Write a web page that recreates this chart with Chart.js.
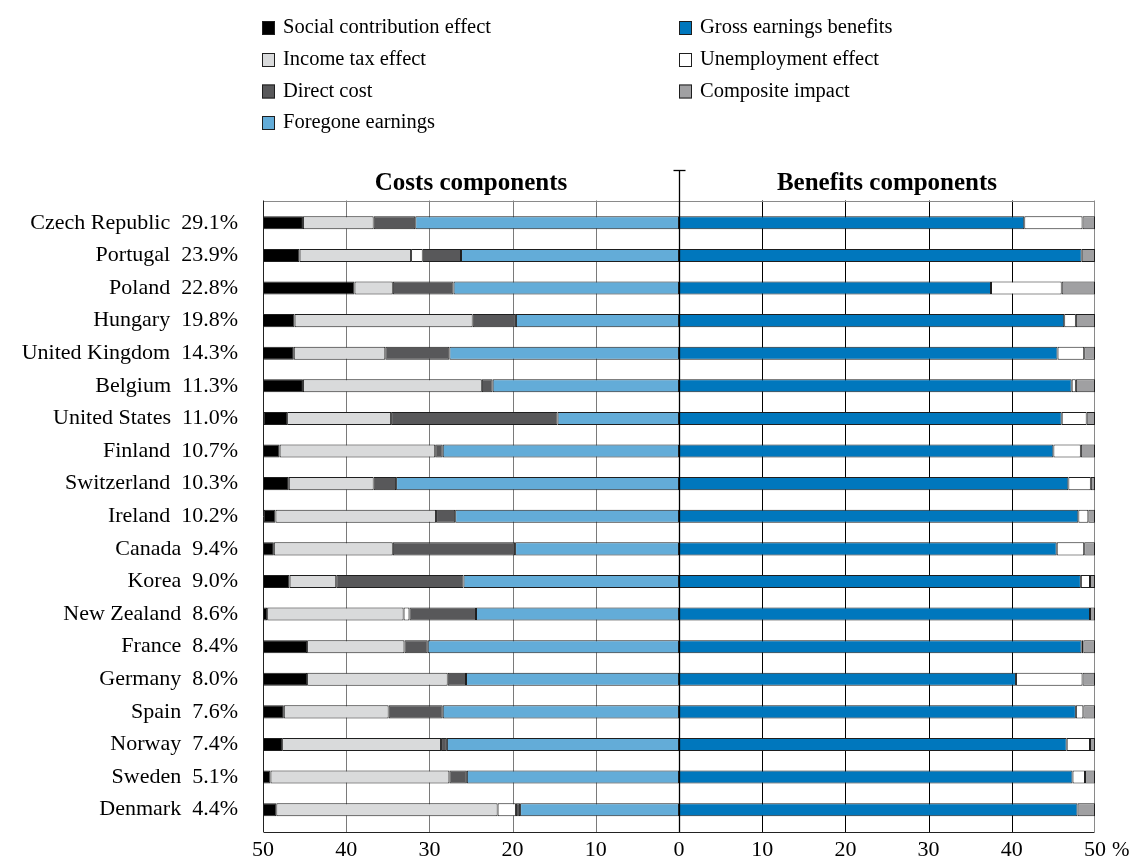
<!DOCTYPE html>
<html>
<head>
<meta charset="utf-8">
<script src="https://cdn.jsdelivr.net/npm/chart.js@4.4.1/dist/chart.umd.min.js"></script>
<style>
html,body{margin:0;padding:0;background:#fff;}
#wrap{width:1133px;height:865px;position:relative;}
</style>
</head>
<body>
<div id="wrap"><canvas id="c" width="1133" height="865"></canvas></div>
<script>
const countries = ["Czech Republic","Portugal","Poland","Hungary","United Kingdom","Belgium","United States","Finland","Switzerland","Ireland","Canada","Korea","New Zealand","France","Germany","Spain","Norway","Sweden","Denmark"];
const rates = ["29.1%","23.9%","22.8%","19.8%","14.3%","11.3%","11.0%","10.7%","10.3%","10.2%","9.4%","9.0%","8.6%","8.4%","8.0%","7.6%","7.4%","5.1%","4.4%"];

// Cost components (share of total, drawn to the left)
const socialContribution = [4.8,4.4,11.0,3.9,3.8,4.8,2.8,2.0,3.1,1.4,1.3,3.2,0.5,5.3,5.3,2.5,2.3,1.0,1.6];
const incomeTax = [8.5,13.4,4.6,21.4,11.0,21.5,12.5,18.7,10.2,19.3,14.3,5.6,16.4,11.7,16.9,12.6,19.1,21.5,26.6];
const unemploymentCost = [0,1.4,0,0,0,0,0,0,0,0,0,0,0.7,0,0,0,0,0,2.2];
const directCost = [5.0,4.6,7.3,5.2,7.7,1.3,20.0,0.9,2.7,2.3,14.7,15.3,8.0,2.8,2.2,6.5,0.7,2.1,0.5];
const foregoneEarnings = [31.7,26.2,27.1,19.6,27.6,22.4,14.6,28.4,34.0,26.9,19.7,25.9,24.4,30.2,25.6,28.4,27.9,25.5,19.1];

// Benefit components (drawn to the right)
const grossEarnings = [41.5,48.4,37.5,46.3,45.5,47.2,46.0,45.0,46.8,48.0,45.4,48.3,49.4,48.4,40.5,47.7,46.6,47.3,47.9];
const unemploymentBenefit = [7.0,0,8.5,1.4,3.2,0.5,3.0,3.3,2.7,1.2,3.3,1.1,0,0.2,8.0,0.9,2.8,1.5,0];
const compositeImpact = [1.5,1.6,4.0,2.3,1.3,2.3,1.0,1.7,0.5,0.8,1.3,0.6,0.6,1.4,1.5,1.4,0.6,1.2,2.1];

const xTicks = [-50,-40,-30,-20,-10,0,10,20,30,40,50];

const FONT = "'Liberation Serif', 'DejaVu Serif', serif";
const COL = {
  social:'#000000', tax:'#d9dadb', unemp:'#ffffff', direct:'#58585a',
  foregone:'#63acd8', gross:'#0077bd', composite:'#a0a0a2'
};

const labels = countries.map((c,i)=> c + '  ' + rates[i]);
const neg = a => a.map(v => v ? -v : null);
const pos = a => a.map(v => v ? v : null);

function ds(label, data, color){
  return {label, data, backgroundColor: color, borderColor:'#1e1e1e', borderWidth:1,
          borderSkipped:false, stack:'s', categoryPercentage:1, barPercentage:0.4};
}

const datasets = [
  ds('Foregone earnings', neg(foregoneEarnings), COL.foregone),
  ds('Direct cost', neg(directCost), COL.direct),
  ds('Unemployment effect (cost)', neg(unemploymentCost), COL.unemp),
  ds('Income tax effect', neg(incomeTax), COL.tax),
  ds('Social contribution effect', neg(socialContribution), COL.social),
  ds('Gross earnings benefits', pos(grossEarnings), COL.gross),
  ds('Unemployment effect', pos(unemploymentBenefit), COL.unemp),
  ds('Composite impact', pos(compositeImpact), COL.composite)
];

const legendLayout = [
  ['Social contribution effect', 0, 0], ['Income tax effect', 0, 1], ['Direct cost', 0, 2], ['Foregone earnings', 0, 3],
  ['Gross earnings benefits', 1, 0], ['Unemployment effect', 1, 1], ['Composite impact', 1, 2]
];

const PAD = 6;

const decor = {
  id:'decor',
  beforeDatasetsDraw(chart){
    const ctx = chart.ctx, a = chart.chartArea, xs = chart.scales.x;
    const top = a.top - PAD, bot = a.bottom + PAD;
    ctx.save();
    ctx.lineWidth = 1;
    xTicks.forEach(v=>{
      if (v === 0 || Math.abs(v) === 50) return;
      const x = Math.round(xs.getPixelForValue(v)) + 0.5;
      ctx.strokeStyle = v < 0 ? '#7a7a7a' : '#000000';
      ctx.beginPath(); ctx.moveTo(x, top); ctx.lineTo(x, bot); ctx.stroke();
    });
    const L = Math.round(xs.getPixelForValue(-50)) + 0.5;
    const R = Math.round(xs.getPixelForValue(50)) - 0.5;
    ctx.strokeStyle = '#8a8a8a';
    ctx.beginPath(); ctx.moveTo(L, Math.round(top)+0.5); ctx.lineTo(R, Math.round(top)+0.5); ctx.stroke();
    ctx.beginPath(); ctx.moveTo(R, top); ctx.lineTo(R, bot); ctx.stroke();
    ctx.strokeStyle = '#222222';
    ctx.beginPath(); ctx.moveTo(L, top); ctx.lineTo(L, bot); ctx.stroke();
    ctx.beginPath(); ctx.moveTo(L, Math.round(bot)+0.5); ctx.lineTo(R, Math.round(bot)+0.5); ctx.stroke();
    ctx.restore();
  },
  afterDatasetsDraw(chart){
    const ctx = chart.ctx, a = chart.chartArea, xs = chart.scales.x;
    const bot = a.bottom + PAD;
    ctx.save();
    // zero line with cap
    const x0 = Math.round(xs.getPixelForValue(0)) + 0.5;
    ctx.strokeStyle = '#000'; ctx.lineWidth = 1.3;
    ctx.beginPath(); ctx.moveTo(x0, 170.5); ctx.lineTo(x0, bot); ctx.stroke();
    ctx.beginPath(); ctx.moveTo(x0-6, 170.5); ctx.lineTo(x0+6, 170.5); ctx.stroke();
    // section titles
    ctx.fillStyle = '#000';
    ctx.font = "bold 25px " + FONT;
    ctx.textAlign = 'center'; ctx.textBaseline = 'middle';
    ctx.fillText('Costs components', (xs.getPixelForValue(-50)+xs.getPixelForValue(0))/2, 184);
    ctx.fillText('Benefits components', (xs.getPixelForValue(0)+xs.getPixelForValue(50))/2, 184);
    // percent sign
    ctx.font = "21px " + FONT;
    ctx.textAlign = 'left';
    ctx.fillText('%', xs.getPixelForValue(50) + 17, 850);
    // legend
    ctx.font = "20.5px " + FONT;
    const colX = [262, 679], rowY = [28, 60, 91.5, 123];
    legendLayout.forEach(([name, c, r])=>{
      const d = chart.data.datasets.find(s=>s.label===name);
      const bx = colX[c], by = rowY[r] - 7;
      ctx.fillStyle = d.backgroundColor;
      ctx.fillRect(bx, by, 13, 14);
      ctx.strokeStyle = '#1e1e1e'; ctx.lineWidth = 1;
      ctx.strokeRect(bx+0.5, by+0.5, 12, 13);
      ctx.fillStyle = '#000';
      ctx.textAlign = 'left'; ctx.textBaseline = 'middle';
      ctx.fillText(name, bx + 21, rowY[r]);
    });
    ctx.restore();
  }
};

new Chart(document.getElementById('c'), {
  type:'bar',
  data:{ labels, datasets },
  options:{
    indexAxis:'y',
    responsive:false,
    animation:false,
    events:[],
    layout:{ padding:{ left:0, right:38, top:206.5, bottom:0 } },
    plugins:{ legend:{display:false}, title:{display:false}, tooltip:{enabled:false} },
    scales:{
      x:{
        type:'linear', min:-50, max:50, stacked:true,
        afterBuildTicks(scale){ scale.ticks = xTicks.map(v=>({value:v})); },
        afterFit(scale){ scale.height = 39; },
        grid:{ display:false, drawTicks:false },
        border:{ display:false },
        ticks:{ color:'#000', padding:11, font:{ family:FONT, size:22 },
                callback:v=>String(Math.abs(v)), maxRotation:0, autoSkip:false }
      },
      y:{
        stacked:true,
        afterFit(scale){ scale.width = 263; },
        grid:{ display:false, drawTicks:false },
        border:{ display:false },
        ticks:{ color:'#000', padding:25, font:{ family:FONT, size:22 }, autoSkip:false }
      }
    }
  },
  plugins:[decor]
});
</script>
</body>
</html>
